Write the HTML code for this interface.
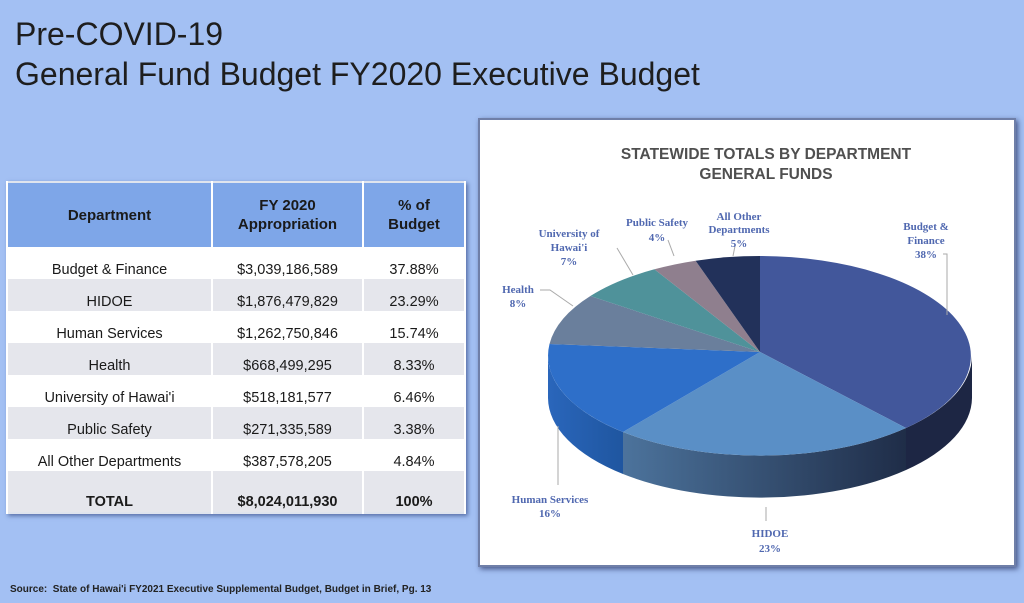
<!DOCTYPE html>
<html><head><meta charset="utf-8"><style>
body{margin:0;width:1024px;height:603px;background:#a3c0f3;position:relative;overflow:hidden;font-family:"Liberation Sans",sans-serif}
.t{position:absolute;left:15px;font-size:32px;color:#1e1e1e;line-height:36px}
table{position:absolute;left:6px;top:181px;width:460px;border-collapse:collapse;font-size:14.5px;color:#1a1a1a;box-shadow:2px 2px 4px rgba(40,60,120,.6);border:2px solid #dfe4ee}
td,th{text-align:center;padding:0;border-left:2px solid #fff;border-right:2px solid #fff}
th{background:#7ea6e8;height:64px;font-weight:bold;font-size:15px;line-height:19px}
td{height:30.5px;line-height:16px;vertical-align:bottom;padding-bottom:1.5px;background:#fff}
tr.g td{background:#e5e6ec}
.src{position:absolute;left:10px;top:584px;font-size:10px;font-weight:bold;color:#222}
</style></head><body>
<div class="t" style="top:16px">Pre-COVID-19</div>
<div class="t" style="top:56px">General Fund Budget FY2020 Executive Budget</div>
<table>
<tr><th style="width:203px">Department</th><th style="width:149px">FY 2020<br>Appropriation</th><th>% of<br>Budget</th></tr>
<tr><td>Budget &amp; Finance</td><td>$3,039,186,589</td><td>37.88%</td></tr>
<tr class="g"><td>HIDOE</td><td>$1,876,479,829</td><td>23.29%</td></tr>
<tr><td>Human Services</td><td>$1,262,750,846</td><td>15.74%</td></tr>
<tr class="g"><td>Health</td><td>$668,499,295</td><td>8.33%</td></tr>
<tr><td>University of Hawai'i</td><td>$518,181,577</td><td>6.46%</td></tr>
<tr class="g"><td>Public Safety</td><td>$271,335,589</td><td>3.38%</td></tr>
<tr><td>All Other Departments</td><td>$387,578,205</td><td>4.84%</td></tr>
<tr class="g"><td style="height:39px;font-weight:bold">TOTAL</td><td style="font-weight:bold">$8,024,011,930</td><td style="font-weight:bold">100%</td></tr>
</table>
<div style="position:absolute;left:478px;top:118px;width:538px;height:449px;background:#fff;border:2px solid #6f7fa8;box-shadow:2px 2px 5px rgba(30,40,90,.7);box-sizing:border-box"></div>
<svg style="position:absolute;left:0;top:0" width="1024" height="603">
<defs>
<linearGradient id="hs" x1="0" x2="1"><stop offset="0" stop-color="#2a66bb"/><stop offset="1" stop-color="#1f56a0"/></linearGradient>
<linearGradient id="hd" x1="0" x2="1"><stop offset="0" stop-color="#4c739c"/><stop offset="1" stop-color="#1f2d48"/></linearGradient>
</defs>
<g font-family="Liberation Sans,sans-serif" font-weight="bold" font-size="15.5" fill="#4f4f4f" text-anchor="middle">
<text x="766" y="159">STATEWIDE TOTALS BY DEPARTMENT</text>
<text x="766" y="179">GENERAL FUNDS</text></g>
<path d="M972,356 A212,100 0 0 1 906,428 L906,470 A212,100 0 0 0 972,398 Z" fill="#1d2644"/>
<path d="M906,428 A212,100 0 0 1 623,432 L623,474 A212,100 0 0 0 906,470 Z" fill="url(#hd)"/>
<path d="M623,432 A212,100 0 0 1 548,356 L548,398 A212,100 0 0 0 623,474 Z" fill="url(#hs)"/>
<path d="M760,352 L760,256 A212,100 0 0 1 906,428 Z" fill="#42579b"/>
<path d="M760,352 L906,428 A212,100 0 0 1 623,432 Z" fill="#5a8fc6"/>
<path d="M760,352 L623,432 A212,100 0 0 1 549.5,344 Z" fill="#2e6fc9"/>
<path d="M760,352 L549.5,344 A212,100 0 0 1 590.4,296 Z" fill="#6a7f9c"/>
<path d="M760,352 L590.4,296 A212,100 0 0 1 654.4,269.3 Z" fill="#4f929a"/>
<path d="M760,352 L654.4,269.3 A212,100 0 0 1 695.6,260.7 Z" fill="#8f7f8e"/>
<path d="M760,352 L695.6,260.7 A212,100 0 0 1 760,256 Z" fill="#22315a"/>
<g stroke="#aaa" fill="none" stroke-width="1">
<polyline points="943,254 947,254 947,315"/>
<polyline points="735,246 733,256"/>
<polyline points="668,240 674,256"/>
<polyline points="617,248 633,275"/>
<polyline points="540,290 550,290 573,306"/>
<polyline points="558,485 558,426"/>
<polyline points="766,521 766,507"/>
</g>
<g font-family="Liberation Serif,serif" font-weight="bold" font-size="11" fill="#5068b0" text-anchor="middle">
<text x="926" y="230">Budget &amp;</text><text x="926" y="244">Finance</text><text x="926" y="258">38%</text>
<text x="739" y="220">All Other</text><text x="739" y="233">Departments</text><text x="739" y="247">5%</text>
<text x="657" y="226">Public Safety</text><text x="657" y="241">4%</text>
<text x="569" y="237">University of</text><text x="569" y="251">Hawai'i</text><text x="569" y="265">7%</text>
<text x="518" y="293">Health</text><text x="518" y="307">8%</text>
<text x="550" y="503">Human Services</text><text x="550" y="517">16%</text>
<text x="770" y="537">HIDOE</text><text x="770" y="552">23%</text>
</g>
</svg>
<div class="src">Source:&nbsp; State of Hawai'i FY2021 Executive Supplemental Budget, Budget in Brief, Pg. 13</div>
</body></html>
